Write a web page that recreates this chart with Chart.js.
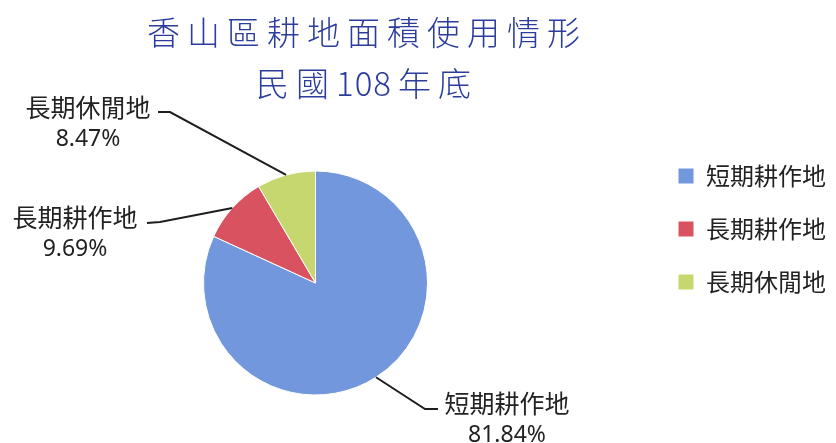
<!DOCTYPE html>
<html lang="zh-Hant">
<head>
    <meta charset="UTF-8">
    <title>香山區耕地面積使用情形</title>
    <script src="https://cdn.jsdelivr.net/npm/chart.js"></script>
    <style>
        body { margin: 0; background: #fff; }
        .wrap { position: relative; width: 836px; height: 443px; overflow: hidden; }
        #chart-title {
            position: absolute;
            left: 0;
            top: 6px;
            width: 734px;
            text-align: center;
            font-family: "Noto Sans CJK TC", sans-serif;
            font-weight: 300;
            font-size: 33px;
            line-height: 51px;
            color: #2b3c9c;
            letter-spacing: 7px;
        }
        #chart-title .num { letter-spacing: 1px; margin-right: 6px; }
        /* canvas is 18px wider and shifted left so the pie sits left of centre */
        canvas { position: absolute; left: -18px; top: 0; }
    </style>
</head>
<body>
    <div class="wrap">
        <canvas id="pie" width="854" height="443"></canvas>
        <div id="chart-title">香山區耕地面積使用情形<br>民國<span class="num">108</span>年底</div>
    </div>

    <script>
        // data
        const categories = ["短期耕作地", "長期耕作地", "長期休閒地"];
        const shares = [81.84, 9.69, 8.47];
        const sliceColors = ["#7397dc", "#d8525f", "#c6d76f"];

        // outside labels, canvas coords (elbow of leader line, end of line, text centre)
        const labelLayout = [
            { elbow: [443, 409], end: [456, 409], text: [525, 403] },
            { elbow: [178, 222], end: [165, 223], text: [93, 217] },
            { elbow: [188, 112], end: [176, 112], text: [106, 107] }
        ];

        const outsideLabels = {
            id: "outsideLabels",
            afterDatasetsDraw(chart) {
                const ctx = chart.ctx;
                const meta = chart.getDatasetMeta(0);
                ctx.save();
                meta.data.forEach((arc, i) => {
                    const p = arc.getProps(["x", "y", "startAngle", "endAngle", "outerRadius"], true);
                    const mid = (p.startAngle + p.endAngle) / 2;
                    const sx = p.x + Math.cos(mid) * p.outerRadius;
                    const sy = p.y + Math.sin(mid) * p.outerRadius;
                    const lay = labelLayout[i];

                    ctx.strokeStyle = "#1e1e1e";
                    ctx.lineWidth = 2;
                    ctx.beginPath();
                    ctx.moveTo(sx, sy);
                    ctx.lineTo(lay.elbow[0], lay.elbow[1]);
                    ctx.lineTo(lay.end[0], lay.end[1]);
                    ctx.stroke();

                    ctx.fillStyle = "#222";
                    ctx.textAlign = "center";
                    ctx.textBaseline = "middle";
                    ctx.font = '25px "Noto Sans CJK TC", sans-serif';
                    ctx.fillText(chart.data.labels[i], lay.text[0], lay.text[1]);
                    ctx.font = '23px "Noto Sans", sans-serif';
                    const v = chart.data.datasets[0].data[i];
                    ctx.fillText(v.toFixed(2) + "%", lay.text[0], lay.text[1] + 32);
                });
                ctx.restore();
            }
        };

        new Chart(document.getElementById("pie").getContext("2d"), {
            type: "pie",
            data: {
                labels: categories,
                datasets: [{
                    data: shares,
                    backgroundColor: sliceColors,
                    borderColor: "#ffffff",
                    borderWidth: 1,
                    radius: 112
                }]
            },
            options: {
                responsive: false,
                animation: false,
                layout: { padding: { left: 0, right: 0, top: 135, bottom: 12 } },
                plugins: {
                    tooltip: { enabled: false },
                    legend: {
                        position: "right",
                        align: "start",
                        labels: {
                            boxWidth: 16,
                            boxHeight: 16,
                            padding: 29,
                            color: "#222",
                            font: { size: 24, family: '"Noto Sans CJK TC", sans-serif' }
                        }
                    }
                }
            },
            plugins: [outsideLabels]
        });
    </script>
</body>
</html>
